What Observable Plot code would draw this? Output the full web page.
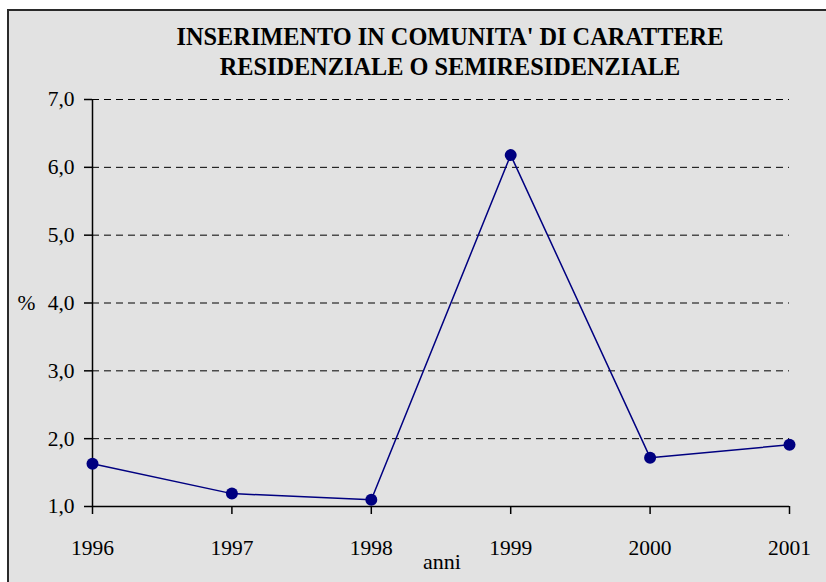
<!DOCTYPE html>
<html><head><meta charset="utf-8">
<script src="https://cdn.jsdelivr.net/npm/d3@7"></script>
<script src="https://cdn.jsdelivr.net/npm/@observablehq/plot@0.6"></script>
<style>
html,body{margin:0;padding:0;background:#fff;overflow:hidden;}
#wrap{position:relative;width:826px;height:582px;overflow:hidden;}
#frame{position:absolute;left:7px;top:9px;width:840px;height:600px;border:2px solid #2a2a2a;background:#e2e2e2;box-sizing:border-box;}
#title{position:absolute;left:0;width:900px;top:22px;text-align:center;font-family:"Liberation Serif","Times New Roman",serif;font-weight:bold;font-size:24.3px;line-height:30px;color:#000;}
#chart{position:absolute;left:0;top:0;}
#chart svg text{font-family:"Liberation Serif","Times New Roman",serif;}
</style></head>
<body>
<div id="wrap"><div id="frame"></div><div id="title">INSERIMENTO IN COMUNITA' DI CARATTERE<br>RESIDENZIALE O SEMIRESIDENZIALE</div><div id="chart"></div></div>
<script>
const years = [1996, 1997, 1998, 1999, 2000, 2001];
const values = [1.63, 1.19, 1.10, 6.18, 1.72, 1.91];
const yTicks = [1, 2, 3, 4, 5, 6, 7];
const yLabel = "%";
const xLabel = "anni";

const data = years.map((y, i) => ({year: y, value: values[i]}));
const fmt = v => v.toFixed(1).replace(".", ",");
const font = "Liberation Serif, Times New Roman, serif";

const chart = Plot.plot({
  width: 826, height: 582,
  marginLeft: 92, marginRight: 37, marginTop: 99, marginBottom: 76,
  style: {background: "transparent", fontFamily: font, fontSize: "21.5px", color: "#000"},
  x: {domain: [1996, 2001]},
  y: {domain: [1, 7]},
  marks: [
    Plot.ruleY(yTicks.filter(d => d > 1), {stroke: "#000", strokeWidth: 1, strokeDasharray: "7,5"}),
    Plot.axisY({ticks: yTicks, tickFormat: fmt, tickSize: 8, tickPadding: 10, label: null, stroke: "#000", strokeWidth: 1.5}),
    Plot.axisX({ticks: years, tickFormat: d => String(d), tickSize: 8, tickPadding: 25, label: null, stroke: "#000", strokeWidth: 1.5}),
    Plot.ruleX([1996], {stroke: "#000", strokeWidth: 1.5}),
    Plot.ruleY([1], {stroke: "#000", strokeWidth: 1.5}),
    Plot.line(data, {x: "year", y: "value", stroke: "#000080", strokeWidth: 1.5}),
    Plot.dot(data, {x: "year", y: "value", r: 6, fill: "#000080", stroke: "none"}),
    Plot.text([yLabel], {frameAnchor: "left", text: d => d, y: () => 4, dx: -57, textAnchor: "end"}),
    Plot.text([xLabel], {frameAnchor: "bottom", text: d => d, dx: 1, dy: 62})
  ]
});
d3.select(chart).selectAll("text").style("font-size", "21.5px");
d3.select(chart).selectAll("text").filter(function(){ return this.textContent === xLabel; }).style("font-size", "22px");
document.getElementById("chart").appendChild(chart);
</script>
</body></html>
